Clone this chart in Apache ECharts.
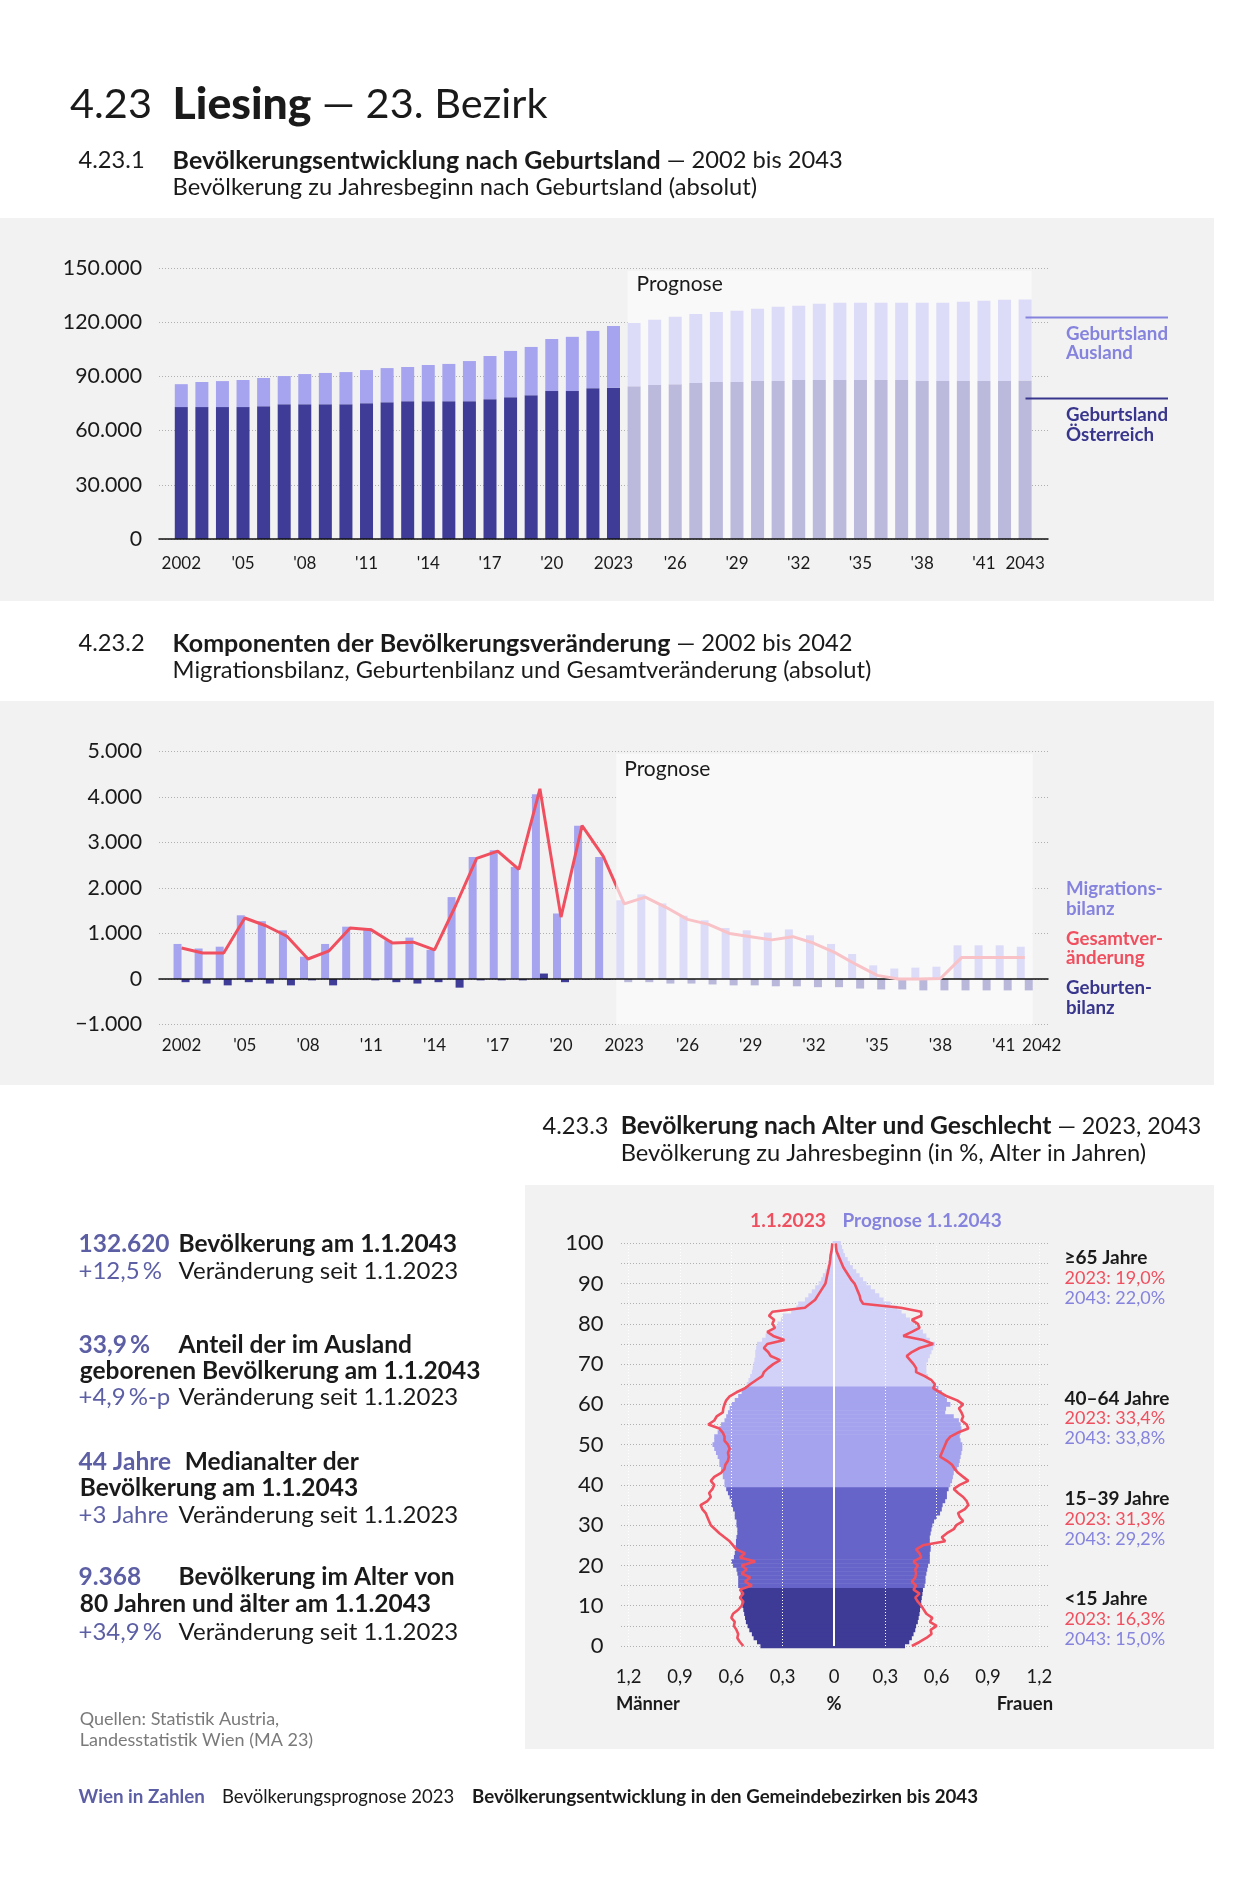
<!DOCTYPE html>
<html><head><meta charset="utf-8">
<script src="https://cdn.jsdelivr.net/npm/echarts@6/dist/echarts.min.js"></script>
<style>
html,body{margin:0;padding:0;background:#fff;}
#wrap{position:relative;width:1260px;height:1890px;overflow:hidden;}
.panel{position:absolute;background:#f2f2f2;}
#chart{position:absolute;left:0;top:0;width:1260px;height:1890px;}
</style></head><body>
<div id="wrap">
<div class="panel" style="left:0;top:218px;width:1214px;height:383px"></div>
<div class="panel" style="left:0;top:701px;width:1214px;height:384px"></div>
<div class="panel" style="left:525px;top:1185px;width:689px;height:564px"></div>
<div id="chart"></div>
</div>
<script>
// ---------- DATA ----------
const years = ['2002','2003','2004','2005','2006','2007','2008','2009','2010','2011','2012','2013','2014','2015','2016','2017','2018','2019','2020','2021','2022','2023','2024','2025','2026','2027','2028','2029','2030','2031','2032','2033','2034','2035','2036','2037','2038','2039','2040','2041','2042','2043'];
const yearsKomponenten = years.slice(0, 41); // 2002..2042

// 4.23.1 population by country of birth (absolute)
const geburtslandOesterreich = [73000,73000,73000,73000,73500,74600,74600,74600,74600,75200,75700,76300,76300,76300,76300,77400,78500,79600,81900,81900,83500,83700,
  84600,85200,85700,86300,86900,86900,87400,87400,88000,88000,88000,88000,88000,88000,87400,87400,87400,87400,87400,87700];
const geburtslandAusland = [12700,13900,14400,15000,15600,15600,16700,17300,17800,18300,18900,18900,20000,20600,22200,23900,25600,26700,28800,30000,31700,34200,
  35000,36100,37300,38300,38800,39400,40000,41100,41100,42200,42700,42700,42700,42700,43300,43300,43900,44500,45000,44900];

// 4.23.2 components (2002..2042)
const migrationsbilanz = [770,670,710,1400,1270,1070,490,770,1150,1120,850,910,640,1800,2680,2830,2460,4060,1440,3370,2680,
  1730,1860,1660,1390,1290,1120,1070,1020,1090,960,770,550,300,230,250,270,740,740,740,710];
const geburtenbilanz = [-70,-100,-140,-70,-100,-140,-30,-140,-10,-30,-70,-100,-70,-190,-30,-30,-30,120,-70,-10,-10,
  -70,-70,-100,-100,-120,-140,-140,-160,-160,-180,-180,-210,-230,-230,-250,-250,-250,-250,-250,-250];
const gesamtveraenderung = [680,570,570,1340,1170,940,440,620,1120,1080,790,810,640,1610,2650,2810,2410,4180,1360,3370,2700,
  1650,1800,1570,1310,1200,1000,930,860,930,785,580,320,80,0,0,10,470,470,470,470];

// 4.23.3 age pyramid, % of population by single year of age 0..100
const ages = Array.from({length:101}, (_, i) => String(i));
const maenner2043 = [0.43,0.45,0.47,0.48,0.495,0.505,0.515,0.52,0.525,0.53,
 0.535,0.54,0.54,0.545,0.545,0.56,0.56,0.56,0.565,0.57,
 0.59,0.60,0.585,0.58,0.575,0.573,0.573,0.57,0.565,0.565,
 0.57,0.57,0.58,0.58,0.59,0.60,0.60,0.61,0.62,0.63,
 0.64,0.64,0.65,0.65,0.66,0.67,0.67,0.68,0.69,0.70,
 0.71,0.70,0.70,0.68,0.67,0.66,0.64,0.63,0.62,0.61,
 0.60,0.58,0.56,0.54,0.52,0.51,0.50,0.49,0.48,0.475,
 0.47,0.465,0.46,0.46,0.455,0.45,0.42,0.40,0.37,0.35,
 0.33,0.31,0.30,0.25,0.22,0.21,0.17,0.15,0.13,0.11,
 0.09,0.075,0.065,0.05,0.04,0.033,0.026,0.02,0.015,0.01,
 0.008];
const frauen2043 = [0.415,0.44,0.455,0.465,0.475,0.48,0.49,0.495,0.50,0.503,
 0.507,0.51,0.513,0.517,0.52,0.53,0.535,0.535,0.54,0.545,
 0.55,0.56,0.56,0.56,0.565,0.565,0.56,0.56,0.565,0.57,
 0.575,0.585,0.60,0.62,0.63,0.635,0.65,0.66,0.66,0.67,
 0.68,0.69,0.695,0.70,0.72,0.73,0.735,0.74,0.745,0.75,
 0.75,0.74,0.735,0.74,0.745,0.74,0.73,0.70,0.65,0.655,
 0.68,0.66,0.65,0.63,0.61,0.59,0.56,0.55,0.54,0.54,
 0.54,0.55,0.56,0.57,0.58,0.59,0.56,0.54,0.52,0.50,
 0.47,0.445,0.42,0.395,0.37,0.33,0.29,0.265,0.24,0.215,
 0.19,0.17,0.15,0.13,0.11,0.093,0.08,0.064,0.055,0.047,
 0.04];
const maenner2023 = [0.53,0.55,0.565,0.56,0.57,0.585,0.58,0.60,0.59,0.56,
 0.54,0.53,0.55,0.53,0.55,0.48,0.52,0.49,0.54,0.51,
 0.54,0.46,0.55,0.52,0.57,0.59,0.61,0.64,0.67,0.695,
 0.72,0.73,0.74,0.75,0.77,0.78,0.74,0.72,0.73,0.71,
 0.70,0.72,0.70,0.66,0.64,0.635,0.62,0.615,0.62,0.61,
 0.62,0.64,0.64,0.65,0.67,0.735,0.70,0.686,0.65,0.647,
 0.64,0.63,0.61,0.57,0.52,0.49,0.456,0.42,0.41,0.385,
 0.355,0.315,0.37,0.385,0.41,0.39,0.29,0.355,0.39,0.345,
 0.36,0.35,0.38,0.36,0.17,0.14,0.11,0.095,0.08,0.065,
 0.05,0.045,0.04,0.035,0.03,0.025,0.022,0.02,0.015,0.012,
 0.01];
const frauen2023 = [0.455,0.50,0.54,0.57,0.565,0.60,0.56,0.575,0.54,0.525,
 0.51,0.49,0.475,0.50,0.465,0.48,0.455,0.475,0.48,0.475,
 0.49,0.465,0.51,0.50,0.48,0.52,0.65,0.63,0.66,0.70,
 0.715,0.755,0.735,0.725,0.765,0.785,0.775,0.755,0.725,0.70,
 0.735,0.785,0.755,0.725,0.705,0.69,0.66,0.62,0.63,0.64,
 0.65,0.66,0.68,0.725,0.785,0.775,0.745,0.755,0.745,0.73,
 0.755,0.72,0.66,0.62,0.58,0.59,0.57,0.53,0.48,0.48,
 0.465,0.445,0.425,0.455,0.50,0.58,0.52,0.405,0.455,0.50,
 0.49,0.455,0.51,0.51,0.39,0.17,0.155,0.15,0.14,0.13,
 0.12,0.10,0.085,0.07,0.055,0.045,0.035,0.025,0.015,0.012,
 0.01];

// ---------- STYLE ----------
const FONT = 'Lato';
const C = {
  oeHist:'#3f3c98', oeProg:'#bbbadc', auHist:'#a6a4ee', auProg:'#dddcf8',
  gebProg:'#b9b8db', red:'#ef4f5e', pink:'#f8c2c7',
  age0:'#3e3b97', age1:'#6664c8', age2:'#a5a3ee', age3:'#d2d1f7',
  legLight:'#8583dd', legDark:'#38358c', stat:'#5d5fa5', text:'#1a1a1a', grid:'#b0b0b0'
};
const LAST_HIST_1 = 21; // 2023 index in years
const LAST_HIST_2 = 20; // 2022 index in yearsKomponenten

function thousands(v){
  if (v === 0) return '0';
  const s = String(Math.abs(v)).replace(/\B(?=(\d{3})+(?!\d))/g, '.');
  return (v < 0 ? '\u2212' : '') + s;
}
function shortYear(val, keep){ return keep ? val : "'" + val.slice(2); }
function ageColor(i){ return i < 15 ? C.age0 : i < 40 ? C.age1 : i < 65 ? C.age2 : C.age3; }
const dotted = {show:true, lineStyle:{color:C.grid, type:[1,2], width:1}};
const noAxis = {axisLine:{show:false}, axisTick:{show:false}, splitLine:{show:false}};

const chart = echarts.init(document.getElementById('chart'));
const option = {
  animation:false,
  textStyle:{fontFamily:FONT},
  grid:[
    {left:159, top:268, width:889, height:271},
    {left:171, top:268, width:864.4, height:271},
    {left:159, top:751.5, width:889, height:273},
    {left:171, top:751.5, width:864.3, height:273},
    {left:621, top:1243.3, width:427, height:402.7},
    {left:628.7, top:1243.3, width:410.6, height:402.7}
  ],
  xAxis:[
    {gridIndex:0, type:'value', min:0, max:1, z:3, axisLine:{show:true, onZero:false, lineStyle:{color:'#111', width:1.5}}, axisTick:{show:false}, axisLabel:{show:false}, splitLine:{show:false}},
    Object.assign({gridIndex:1, type:'category', data:years,
      axisLabel:{interval:(i)=> i%3===0 || i===41, formatter:(v)=>shortYear(v, v==='2002'||v==='2023'||v==='2043'), fontSize:17, margin:16, color:C.text, fontFamily:FONT}}, noAxis),
    {gridIndex:2, type:'value', min:0, max:1, z:3, axisLine:{show:true, onZero:true, lineStyle:{color:'#111', width:1.5}}, axisTick:{show:false}, axisLabel:{show:false}, splitLine:{show:false}},
    Object.assign({gridIndex:3, type:'category', data:yearsKomponenten,
      axisLabel:{interval:(i)=> i%3===0 || i===40,
        formatter:(v)=> v==='2042' ? '{r|2042}' : shortYear(v, v==='2002'||v==='2023'),
        rich:{r:{padding:[0,0,0,34], fontSize:17, fontFamily:FONT, color:C.text}},
        fontSize:17, margin:12.5, color:C.text, fontFamily:FONT}}, noAxis),
    {gridIndex:4, type:'value', min:0, max:1, show:false},
    Object.assign({gridIndex:5, type:'value', min:-1.2, max:1.2, interval:0.3,
      axisLabel:{formatter:(v)=> Math.abs(v) < 1e-9 ? '0' : Math.abs(v).toFixed(1).replace('.', ','), fontSize:18.5, margin:21.5, color:C.text, fontFamily:FONT}}, noAxis)
  ],
  yAxis:[
    {gridIndex:0, type:'value', min:0, max:150000, interval:30000, axisLine:{show:false}, axisTick:{show:false}, splitLine:dotted,
      axisLabel:{formatter:thousands, fontSize:21.3, margin:17, color:C.text, fontFamily:FONT}},
    {gridIndex:1, type:'value', min:0, max:150000, show:false},
    {gridIndex:2, type:'value', min:-1000, max:5000, interval:1000, axisLine:{show:false}, axisTick:{show:false}, splitLine:dotted,
      axisLabel:{formatter:thousands, fontSize:21.3, margin:17, color:C.text, fontFamily:FONT}},
    {gridIndex:3, type:'value', min:-1000, max:5000, show:false},
    {gridIndex:4, type:'value', min:0, max:100, interval:5, axisLine:{show:false}, axisTick:{show:false}, splitLine:dotted,
      axisLabel:{formatter:(v)=> v%10===0 ? String(v) : '', fontSize:22, margin:17.5, color:C.text, fontFamily:FONT}},
    {gridIndex:5, type:'category', data:ages, boundaryGap:false, show:false}
  ],
  series:[
    {type:'bar', name:'Geburtsland Österreich', xAxisIndex:1, yAxisIndex:1, stack:'pop', barWidth:13,
      data: geburtslandOesterreich.map((v,i)=>({value:v, itemStyle:{color: i<=LAST_HIST_1 ? C.oeHist : C.oeProg}}))},
    {type:'bar', name:'Geburtsland Ausland', xAxisIndex:1, yAxisIndex:1, stack:'pop', barWidth:13,
      data: geburtslandAusland.map((v,i)=>({value:v, itemStyle:{color: i<=LAST_HIST_1 ? C.auHist : C.auProg}}))},
    {type:'bar', name:'Migrationsbilanz', xAxisIndex:3, yAxisIndex:3, barWidth:8, barGap:'0%',
      data: migrationsbilanz.map((v,i)=>({value:v, itemStyle:{color: i<=LAST_HIST_2 ? C.auHist : C.auProg}}))},
    {type:'bar', name:'Geburtenbilanz', xAxisIndex:3, yAxisIndex:3, barWidth:8, barGap:'0%',
      data: geburtenbilanz.map((v,i)=>({value:v, itemStyle:{color: i<=LAST_HIST_2 ? C.oeHist : C.gebProg}}))},
    {type:'line', name:'Gesamtveränderung', xAxisIndex:3, yAxisIndex:3, symbol:'none', z:5, clip:false,
      lineStyle:{width:3, color:{type:'linear', x:0, y:0, x2:1, y2:0, global:false,
        colorStops:[{offset:0,color:C.red},{offset:0.5155,color:C.red},{offset:0.5155,color:C.pink},{offset:1,color:C.pink}]}},
      data: gesamtveraenderung},
    {type:'bar', name:'Männer 2043', xAxisIndex:5, yAxisIndex:5, barWidth:4.6, barGap:'-100%', clip:false,
      data: maenner2043.map((v,i)=>({value:-v, itemStyle:{color:ageColor(i)}}))},
    {type:'bar', name:'Frauen 2043', xAxisIndex:5, yAxisIndex:5, barWidth:4.6, barGap:'-100%', clip:false,
      data: frauen2043.map((v,i)=>({value:v, itemStyle:{color:ageColor(i)}})),
      markLine:{silent:true, z:5, symbol:['none','none'], label:{show:false}, animation:false,
        lineStyle:{color:'#ffffff', type:[1,2], width:1},
        data:[{xAxis:-1.2},{xAxis:-0.9},{xAxis:-0.6},{xAxis:-0.3},{xAxis:0.3},{xAxis:0.6},{xAxis:0.9},{xAxis:1.2},
          {xAxis:0, lineStyle:{type:'solid', width:2, color:'#ffffff'}}]}},
    {type:'line', name:'Männer 2023', xAxisIndex:5, yAxisIndex:5, symbol:'none', z:8, clip:false,
      lineStyle:{width:2.6, color:C.red}, data: maenner2023.map(v=>-v)},
    {type:'line', name:'Frauen 2023', xAxisIndex:5, yAxisIndex:5, symbol:'none', z:8, clip:false,
      lineStyle:{width:2.6, color:C.red}, data: frauen2023}
  ]
};
chart.setOption(option);

// ---------- annotations ----------
function T(x, y, text, o){
  o = o || {};
  const st = {text:text, fill:o.c||C.text, fontSize:o.s||24, fontFamily:FONT, fontWeight:o.w||'normal',
    align:o.a||'left', verticalAlign:'middle'};
  if (o.rich) st.rich = o.rich;
  return {type:'text', x:x, y:y, z:10, silent:true, style:st};
}
function boldRich(size, color, weight){ return {b:{fontWeight:weight||'bold', fontSize:size, fontFamily:FONT, fill:color||C.text}}; }
function L(x1, x2, y, color){ return {type:'line', z:10, silent:true, shape:{x1:x1, y1:y, x2:x2, y2:y}, style:{stroke:color, lineWidth:2}}; }

const px1 = v => chart.convertToPixel({xAxisIndex:1}, v);
const py1 = v => chart.convertToPixel({yAxisIndex:1}, v);
const px3 = v => chart.convertToPixel({xAxisIndex:3}, v);
const py3 = v => chart.convertToPixel({yAxisIndex:3}, v);

const b1x = px1('2024') - 6.5, b1r = px1('2043') + 6.5, b1t = py1(148500), b1b = py1(0) - 1;
const b2x = px3('2023') - 8, b2r = px3('2042') + 8, b2t = py3(4950), b2b = py3(-1000);

const HS = 23.7, HB = 25;   // heading regular / bold sizes
const SR = 24, SB = 24.5;   // key-figure regular / bold sizes
const LG = 18.7;            // legend size
const TS = '\u2009';        // thin space
const els = [
  {type:'rect', z:1, silent:true, shape:{x:b1x, y:b1t, width:b1r-b1x, height:b1b-b1t}, style:{fill:'#f9f9f9'}},
  {type:'rect', z:1, silent:true, shape:{x:b2x, y:b2t, width:b2r-b2x, height:b2b-b2t}, style:{fill:'#f9f9f9'}},
  T(b1x+9, b1t+14, 'Prognose', {s:21}),
  T(b2x+8, b2t+15, 'Prognose', {s:21}),

  T(70, 105, '4.23', {s:41.5}),
  T(172.6, 105, '{b|Liesing} — 23. Bezirk', {s:41.5, rich:boldRich(44.5, C.text, 900)}),

  T(78.5, 160.5, '4.23.1', {s:HS}),
  T(172.6, 160.5, '{b|Bevölkerungsentwicklung nach Geburtsland} — 2002 bis 2043', {s:HS, rich:boldRich(HB)}),
  T(172.6, 187, 'Bevölkerung zu Jahresbeginn nach Geburtsland (absolut)', {s:HS}),

  T(78.5, 643.5, '4.23.2', {s:HS}),
  T(172.6, 643.5, '{b|Komponenten der Bevölkerungsveränderung} — 2002 bis 2042', {s:HS, rich:boldRich(HB)}),
  T(172.6, 670.5, 'Migrationsbilanz, Geburtenbilanz und Gesamtveränderung (absolut)', {s:HS}),

  T(542.4, 1126, '4.23.3', {s:HS}),
  T(620.7, 1126, '{b|Bevölkerung nach Alter und Geschlecht} — 2023, 2043', {s:23.3, rich:boldRich(24.6)}),
  T(620.7, 1153.5, 'Bevölkerung zu Jahresbeginn (in %, Alter in Jahren)', {s:HS}),

  // legend chart 1
  L(1025.5, 1168, 317.4, C.legLight),
  T(1066, 333.5, 'Geburtsland', {s:LG, w:'bold', c:C.legLight}),
  T(1066, 353, 'Ausland', {s:LG, w:'bold', c:C.legLight}),
  L(1025.5, 1168, 398.5, C.legDark),
  T(1066, 415, 'Geburtsland', {s:LG, w:'bold', c:C.legDark}),
  T(1066, 434.5, 'Österreich', {s:LG, w:'bold', c:C.legDark}),

  // legend chart 2
  T(1066, 889, 'Migrations-', {s:LG, w:'bold', c:C.legLight}),
  T(1066, 908.5, 'bilanz', {s:LG, w:'bold', c:C.legLight}),
  T(1066, 938.5, 'Gesamtver-', {s:LG, w:'bold', c:C.red}),
  T(1066, 958, 'änderung', {s:LG, w:'bold', c:C.red}),
  T(1066, 988, 'Geburten-', {s:LG, w:'bold', c:C.legDark}),
  T(1066, 1007.5, 'bilanz', {s:LG, w:'bold', c:C.legDark}),

  // pyramid legend & labels
  T(826, 1221, '1.1.2023', {s:19.2, w:'bold', c:C.red, a:'right'}),
  T(842.5, 1221, 'Prognose 1.1.2043', {s:19, w:'bold', c:C.legLight}),
  T(1064.5, 1258, '\u226565 Jahre', {s:19, w:'bold'}),
  T(1064.5, 1278, '2023: 19,0%', {s:18, c:C.red}),
  T(1064.5, 1298, '2043: 22,0%', {s:18, c:C.legLight}),
  T(1064.5, 1398.5, '40\u201364 Jahre', {s:19, w:'bold'}),
  T(1064.5, 1418.5, '2023: 33,4%', {s:18, c:C.red}),
  T(1064.5, 1438.5, '2043: 33,8%', {s:18, c:C.legLight}),
  T(1064.5, 1499, '15\u201339 Jahre', {s:19, w:'bold'}),
  T(1064.5, 1519, '2023: 31,3%', {s:18, c:C.red}),
  T(1064.5, 1539, '2043: 29,2%', {s:18, c:C.legLight}),
  T(1064.5, 1599, '<15 Jahre', {s:19, w:'bold'}),
  T(1064.5, 1619, '2023: 16,3%', {s:18, c:C.red}),
  T(1064.5, 1639, '2043: 15,0%', {s:18, c:C.legLight}),
  T(616, 1704.5, 'Männer', {s:18.4, w:'bold'}),
  T(834, 1704.5, '%', {s:18.4, w:'bold', a:'center'}),
  T(1053, 1704.5, 'Frauen', {s:18.4, w:'bold', a:'right'}),

  // key figures
  T(78.5, 1244.5, '132.620', {s:SB, w:'bold', c:C.stat}),
  T(178.6, 1244.5, 'Bevölkerung am 1.1.2043', {s:SB, w:'bold'}),
  T(78.5, 1271, '+12,5' + TS + '%', {s:SR, c:C.stat}),
  T(178.6, 1271, 'Veränderung seit 1.1.2023', {s:SR}),

  T(78.5, 1344.6, '33,9' + TS + '%', {s:SB, w:'bold', c:C.stat}),
  T(178.6, 1344.6, 'Anteil der im Ausland', {s:SB, w:'bold'}),
  T(79.7, 1371, 'geborenen Bevölkerung am 1.1.2043', {s:SB, w:'bold'}),
  T(78.5, 1397.7, '+4,9' + TS + '%-p', {s:SR, c:C.stat}),
  T(178.6, 1397.7, 'Veränderung seit 1.1.2023', {s:SR}),

  T(78.5, 1461.7, '44 Jahre', {s:SB, w:'bold', c:C.stat}),
  T(184.7, 1461.7, 'Medianalter der', {s:SB, w:'bold'}),
  T(79.7, 1488, 'Bevölkerung am 1.1.2043', {s:SB, w:'bold'}),
  T(78.5, 1514.8, '+3 Jahre', {s:SR, c:C.stat}),
  T(178.6, 1514.8, 'Veränderung seit 1.1.2023', {s:SR}),

  T(78.5, 1577.5, '9.368', {s:SB, w:'bold', c:C.stat}),
  T(178.6, 1577.5, 'Bevölkerung im Alter von', {s:SB, w:'bold'}),
  T(79.7, 1604, '80 Jahren und älter am 1.1.2043', {s:SB, w:'bold'}),
  T(78.5, 1631.9, '+34,9' + TS + '%', {s:SR, c:C.stat}),
  T(178.6, 1631.9, 'Veränderung seit 1.1.2023', {s:SR}),

  T(79.7, 1718.8, 'Quellen: Statistik Austria,', {s:18, c:'#7a7a7a'}),
  T(79.7, 1740.5, 'Landesstatistik Wien (MA 23)', {s:18, c:'#7a7a7a'}),

  // footer
  T(78.5, 1797, 'Wien in Zahlen', {s:18.8, w:'bold', c:C.stat}),
  T(222, 1797, 'Bevölkerungsprognose 2023', {s:18.5}),
  T(472, 1797, 'Bevölkerungsentwicklung in den Gemeindebezirken bis 2043', {s:18.7, w:'bold'})
];
chart.setOption({graphic: els});
</script></body></html>
